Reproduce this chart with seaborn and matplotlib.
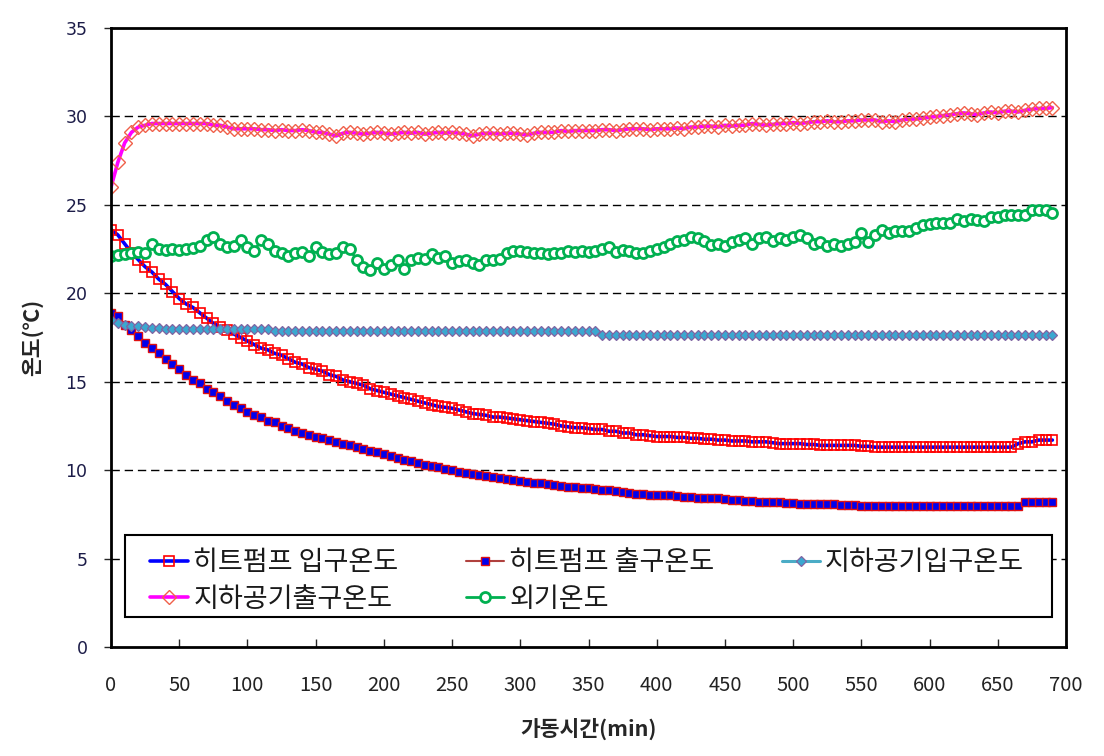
import numpy as np
import pandas as pd
import matplotlib
matplotlib.use("Agg")
import matplotlib.pyplot as plt
from matplotlib.patches import Rectangle
import seaborn as sns

# ---------------- data (5-minute sampling, 0..690 min) ----------------
time_min = list(range(0, 691, 5))

hp_inlet = [
    23.6, 23.3, 22.8, 22.3, 21.9, 21.5, 21.2, 20.8, 20.5, 20.1,
    19.7, 19.4, 19.2, 18.9, 18.6, 18.3, 18.1, 17.9, 17.7, 17.5,
    17.3, 17.1, 16.9, 16.8, 16.6, 16.5, 16.3, 16.1, 16.0, 15.8,
    15.7, 15.6, 15.4, 15.3, 15.1, 15.0, 14.9, 14.8, 14.6, 14.5,
    14.4, 14.3, 14.2, 14.1, 14.0, 13.9, 13.8, 13.7, 13.6, 13.55,
    13.5, 13.4, 13.3, 13.2, 13.15, 13.1, 13.0, 13.0, 12.95, 12.9,
    12.85, 12.8, 12.75, 12.7, 12.65, 12.6, 12.5, 12.45, 12.4, 12.4,
    12.35, 12.3, 12.3, 12.2, 12.2, 12.1, 12.1, 12.0, 12.0, 11.95,
    11.9, 11.9, 11.9, 11.85, 11.85, 11.8, 11.8, 11.75, 11.75, 11.7,
    11.7, 11.65, 11.65, 11.65, 11.6, 11.6, 11.6, 11.55, 11.5, 11.5,
    11.5, 11.5, 11.45, 11.45, 11.4, 11.4, 11.4, 11.4, 11.4, 11.4,
    11.35, 11.35, 11.3, 11.3, 11.3, 11.3, 11.3, 11.3, 11.3, 11.3,
    11.3, 11.3, 11.3, 11.3, 11.3, 11.3, 11.3, 11.3, 11.3, 11.3,
    11.3, 11.3, 11.3, 11.5, 11.6, 11.6, 11.7, 11.7, 11.7,
]

hp_outlet = [
    18.9, 18.7, 18.2, 17.9, 17.6, 17.2, 16.9, 16.6, 16.3, 16.0,
    15.7, 15.4, 15.1, 14.9, 14.6, 14.4, 14.2, 13.9, 13.7, 13.5,
    13.3, 13.1, 13.0, 12.8, 12.7, 12.5, 12.4, 12.2, 12.1, 12.0,
    11.9, 11.8, 11.7, 11.6, 11.5, 11.4, 11.3, 11.2, 11.1, 11.0,
    10.9, 10.8, 10.7, 10.6, 10.5, 10.4, 10.3, 10.25, 10.2, 10.05,
    10.0, 9.9, 9.85, 9.8, 9.7, 9.65, 9.6, 9.55, 9.5, 9.45,
    9.4, 9.35, 9.3, 9.25, 9.2, 9.15, 9.1, 9.05, 9.05, 9.0,
    9.0, 8.95, 8.9, 8.85, 8.8, 8.75, 8.7, 8.65, 8.65, 8.6,
    8.6, 8.6, 8.6, 8.55, 8.5, 8.5, 8.45, 8.4, 8.4, 8.4,
    8.35, 8.3, 8.3, 8.25, 8.25, 8.2, 8.2, 8.2, 8.2, 8.15,
    8.15, 8.1, 8.1, 8.1, 8.1, 8.1, 8.1, 8.05, 8.05, 8.05,
    8.0, 8.0, 8.0, 8.0, 8.0, 8.0, 8.0, 8.0, 8.0, 8.0,
    8.0, 8.0, 8.0, 8.0, 8.0, 8.0, 8.0, 8.0, 8.0, 8.0,
    8.0, 8.0, 8.0, 8.0, 8.2, 8.2, 8.2, 8.2, 8.2,
]

ug_inlet = [
    18.5, 18.3, 18.2, 18.15, 18.15, 18.1, 18.05, 18.05, 18.0, 18.0,
    18.0, 18.0, 18.0, 18.0, 18.0, 18.0, 18.0, 18.0, 18.0, 18.0,
    18.0, 18.0, 18.0, 18.0, 17.85, 17.85, 17.85, 17.85, 17.85, 17.85,
    17.85, 17.85, 17.85, 17.85, 17.85, 17.85, 17.85, 17.85, 17.85, 17.85,
    17.85, 17.85, 17.85, 17.85, 17.85, 17.85, 17.85, 17.85, 17.85, 17.85,
    17.85, 17.85, 17.85, 17.85, 17.85, 17.85, 17.85, 17.85, 17.85, 17.85,
    17.85, 17.85, 17.85, 17.85, 17.85, 17.85, 17.85, 17.85, 17.85, 17.85,
    17.85, 17.85, 17.65, 17.65, 17.65, 17.65, 17.65, 17.65, 17.65, 17.65,
    17.65, 17.65, 17.65, 17.65, 17.65, 17.65, 17.65, 17.65, 17.65, 17.65,
    17.65, 17.65, 17.65, 17.65, 17.65, 17.65, 17.65, 17.65, 17.65, 17.65,
    17.65, 17.65, 17.65, 17.65, 17.65, 17.65, 17.65, 17.65, 17.65, 17.65,
    17.65, 17.65, 17.65, 17.65, 17.65, 17.65, 17.65, 17.65, 17.65, 17.65,
    17.65, 17.65, 17.65, 17.65, 17.65, 17.65, 17.65, 17.65, 17.65, 17.65,
    17.65, 17.65, 17.65, 17.65, 17.65, 17.65, 17.65, 17.65, 17.65,
]

ug_outlet = [
    26.0, 27.4, 28.5, 29.1, 29.4, 29.5, 29.6, 29.6, 29.6, 29.6,
    29.6, 29.6, 29.6, 29.6, 29.6, 29.5, 29.5, 29.4, 29.3, 29.3,
    29.3, 29.3, 29.25, 29.25, 29.2, 29.25, 29.2, 29.2, 29.25, 29.2,
    29.1, 29.1, 29.0, 28.9, 29.05, 29.1, 29.05, 29.0, 29.05, 29.1,
    29.05, 29.0, 29.05, 29.1, 29.05, 29.1, 29.0, 29.05, 29.1, 29.05,
    29.1, 29.05, 29.0, 28.9, 29.0, 29.05, 29.05, 29.0, 29.05, 29.05,
    29.0, 28.95, 29.05, 29.1, 29.1, 29.1, 29.2, 29.15, 29.2, 29.2,
    29.2, 29.2, 29.25, 29.25, 29.2, 29.25, 29.3, 29.3, 29.3, 29.25,
    29.3, 29.3, 29.3, 29.35, 29.3, 29.4, 29.4, 29.45, 29.45, 29.4,
    29.5, 29.45, 29.5, 29.5, 29.6, 29.55, 29.5, 29.55, 29.6, 29.6,
    29.65, 29.6, 29.65, 29.7, 29.7, 29.75, 29.7, 29.7, 29.75, 29.75,
    29.8, 29.8, 29.8, 29.7, 29.75, 29.7, 29.8, 29.85, 29.85, 29.9,
    29.95, 30.0, 30.05, 30.1, 30.15, 30.2, 30.15, 30.1, 30.2, 30.25,
    30.2, 30.3, 30.3, 30.25, 30.35, 30.4, 30.45, 30.45, 30.5,
]

outdoor = [
    22.1, 22.15, 22.2, 22.3, 22.35, 22.3, 22.8, 22.5, 22.45, 22.5,
    22.45, 22.5, 22.55, 22.7, 23.0, 23.2, 22.8, 22.6, 22.7, 23.0,
    22.6, 22.4, 23.0, 22.8, 22.4, 22.3, 22.1, 22.3, 22.35, 22.1,
    22.6, 22.35, 22.2, 22.3, 22.6, 22.5, 21.9, 21.5, 21.3, 21.7,
    21.4, 21.6, 21.9, 21.4, 21.9, 22.0, 21.95, 22.2, 22.0, 22.1,
    21.7, 21.8, 21.9, 21.7, 21.6, 21.9, 21.9, 21.95, 22.3, 22.4,
    22.4, 22.35, 22.3, 22.25, 22.2, 22.3, 22.3, 22.4, 22.35, 22.4,
    22.35, 22.4, 22.5, 22.6, 22.35, 22.45, 22.4, 22.3, 22.3, 22.4,
    22.5, 22.6, 22.8, 22.95, 23.0, 23.2, 23.1, 22.95, 22.75, 22.8,
    22.7, 22.9, 23.0, 23.1, 22.8, 23.1, 23.2, 22.95, 23.1, 23.0,
    23.2, 23.3, 23.1, 22.8, 22.9, 22.7, 22.8, 22.7, 22.8, 22.9,
    23.4, 22.9, 23.3, 23.6, 23.4, 23.5, 23.5, 23.55, 23.7, 23.85,
    23.9, 23.95, 23.95, 24.0, 24.2, 24.1, 24.2, 24.15, 24.1, 24.3,
    24.3, 24.4, 24.4, 24.4, 24.4, 24.7, 24.7, 24.7, 24.55,
]

series_names = ["히트펌프 입구온도", "히트펌프 출구온도", "지하공기입구온도",
                "지하공기출구온도", "외기온도"]
x_ticks = list(range(0, 701, 50))
y_ticks = list(range(0, 36, 5))
x_label = "가동시간(min)"
y_label = "온도(℃)"

# ---------------- figure ----------------
sns.set_theme(style="white")
plt.rcParams["font.family"] = ["Noto Sans CJK KR", "DejaVu Sans"]
plt.rcParams["axes.unicode_minus"] = False

fig = plt.figure(figsize=(11.04, 7.56), dpi=100)
ax = fig.add_axes([111 / 1104, 109 / 756, 955 / 1104, 619 / 756])

styles = [
    dict(color="#0000FF", lw=2.6, marker="s", ms=6.8, mfc="none", mec="#FF0000", mew=1.2),
    dict(color="#B0413E", lw=1.5, marker="s", ms=6.2, mfc="#0000EE", mec="#E01010", mew=1.0),
    dict(color="#4BACC6", lw=2.2, marker="D", ms=4.6, mfc="#3AA8D0", mec="#8064A2", mew=0.9),
    dict(color="#FF00FF", lw=2.6, marker="D", ms=7.0, mfc="none", mec="#F0604A", mew=1.0),
    dict(color="#00B050", lw=2.0, marker="o", ms=7.2, mfc="white", mec="#00B050", mew=2.0),
]
all_series = [hp_inlet, hp_outlet, ug_inlet, ug_outlet, outdoor]

for name, vals, st in zip(series_names, all_series, styles):
    sns.lineplot(x=time_min, y=vals, ax=ax, label=name,
                 color=st["color"], linewidth=st["lw"],
                 marker=st["marker"], markersize=st["ms"],
                 markerfacecolor=st["mfc"], markeredgecolor=st["mec"],
                 markeredgewidth=st["mew"], errorbar=None, sort=False)

ax.set_xlim(0, 700)
ax.set_ylim(0, 35)
ax.set_xticks(x_ticks)
ax.set_yticks(y_ticks)

# gridlines
for yv in y_ticks[1:-1]:
    ax.axhline(yv, color="black", lw=1.0, linestyle=(0, (6, 3.5)), zorder=0.5)

for sp in ax.spines.values():
    sp.set_color("black")
    sp.set_linewidth(2.0)

ax.tick_params(axis="y", direction="out", length=5, width=1, left=True,
               pad=12, labelsize=12.5, labelcolor="#1c1c48")
ax.tick_params(axis="x", direction="in", length=6, width=1, bottom=True,
               pad=20, labelsize=14.5, labelcolor="#222222")
for lab in ax.get_yticklabels():
    lab.set_family("DejaVu Sans")
for lab in ax.get_xticklabels():
    lab.set_family(["Noto Sans CJK KR", "DejaVu Sans"])

ax.set_xlabel(x_label, fontsize=15.5, fontweight="bold", labelpad=16,
              family=["Noto Sans CJK KR", "DejaVu Sans"])
ax.set_ylabel(y_label, fontsize=15.5, fontweight="bold", labelpad=16,
              family=["Noto Sans CJK KR", "DejaVu Sans"])

# legend box (frame drawn separately so horizontal/vertical padding match)
frame_x0, frame_x1 = (125 - 111) / 955, (1052 - 111) / 955
frame_y0, frame_y1 = (647 - 617) / 619, (647 - 535) / 619
ax.add_patch(Rectangle((frame_x0, frame_y0), frame_x1 - frame_x0, frame_y1 - frame_y0,
                       transform=ax.transAxes, facecolor="white", edgecolor="black",
                       linewidth=1.5, zorder=4))

handles, labels = ax.get_legend_handles_labels()
order = [0, 3, 1, 4, 2]
cx0, cx1 = (150 - 111) / 955, (1024 - 111) / 955
cy = (647 - 581) / 619
leg = ax.legend([handles[i] for i in order], [labels[i] for i in order],
                ncol=3, loc="center left", mode="expand",
                bbox_to_anchor=(cx0, cy, cx1 - cx0, 0.0),
                frameon=False, fontsize=19.5, handlelength=1.4,
                handletextpad=0.2, labelspacing=0.35, borderpad=0,
                borderaxespad=0)
leg.set_zorder(5)
for txt in leg.get_texts():
    txt.set_color("#1a1a1a")

fig.savefig("out.png", dpi=100, facecolor="white")
